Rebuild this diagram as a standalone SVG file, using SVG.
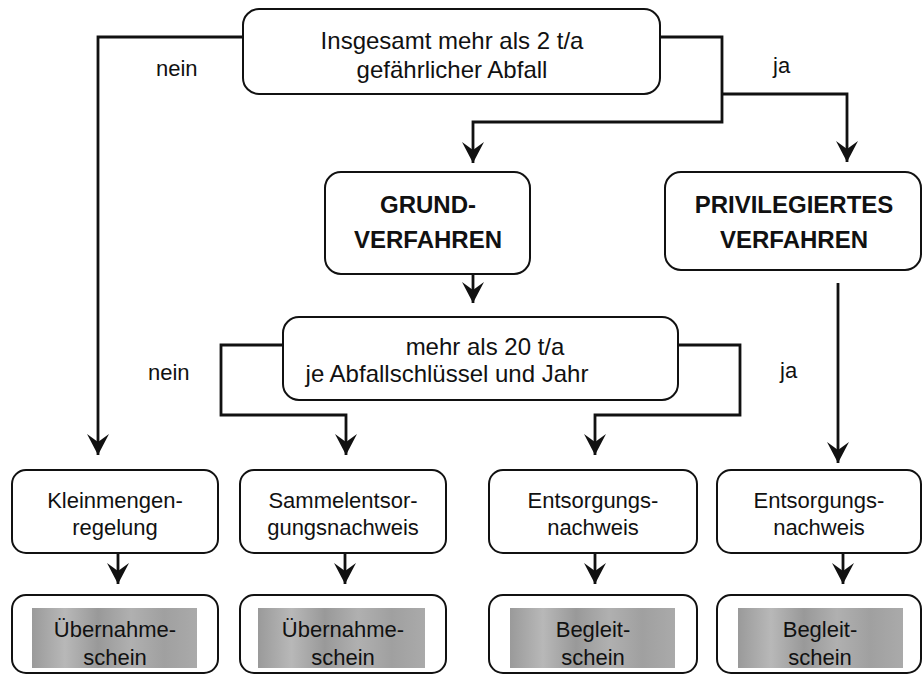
<svg xmlns="http://www.w3.org/2000/svg" width="924" height="677" viewBox="0 0 924 677">
<style>
.box{fill:#fff;stroke:#111;stroke-width:2}
.t{font-family:"Liberation Sans",Arial,sans-serif;font-size:22px;fill:#111;text-anchor:middle}
.tl{font-family:"Liberation Sans",Arial,sans-serif;font-size:24px;fill:#111;text-anchor:middle}
.tb{font-family:"Liberation Sans",Arial,sans-serif;font-size:24px;font-weight:bold;fill:#111;text-anchor:middle}
.lbl{font-family:"Liberation Sans",Arial,sans-serif;font-size:22px;fill:#111}
.c{fill:none;stroke:#111;stroke-width:2.8}
.g{fill:url(#grey)}
</style>
<defs>
<marker id="ah" markerUnits="userSpaceOnUse" markerWidth="24" markerHeight="26" viewBox="-22 -12 24 24" refX="0" refY="0" orient="auto">
<path d="M0,0 L-21,-11 L-13,0 L-21,11 Z" fill="#111"/>
</marker>
<linearGradient id="grey" x1="0" y1="0" x2="1" y2="0">
<stop offset="0" stop-color="#9a9a9a"/>
<stop offset="0.2" stop-color="#b8b8b8"/>
<stop offset="0.4" stop-color="#999"/>
<stop offset="0.6" stop-color="#b0b0b0"/>
<stop offset="0.8" stop-color="#a0a0a0"/>
<stop offset="1" stop-color="#aaa"/>
</linearGradient>
</defs>
<rect width="924" height="677" fill="#fff"/>
<g id="connectors">
<path class="c" d="M243,37 H98 V455" marker-end="url(#ah)"/>
<path class="c" d="M660,37 H722 V122 H473 V163" marker-end="url(#ah)"/>
<path class="c" d="M722,94 H847 V162" marker-end="url(#ah)"/>
<path class="c" d="M473,274 V303" marker-end="url(#ah)"/>
<path class="c" d="M838,283 V463" marker-end="url(#ah)"/>
<path class="c" d="M283,345 H221 V415 H346 V455" marker-end="url(#ah)"/>
<path class="c" d="M678,345 H740 V415 H595 V455" marker-end="url(#ah)"/>
<path class="c" d="M118,553 V584" marker-end="url(#ah)"/>
<path class="c" d="M345,553 V584" marker-end="url(#ah)"/>
<path class="c" d="M595,553 V584" marker-end="url(#ah)"/>
<path class="c" d="M843,553 V584" marker-end="url(#ah)"/>
<text class="lbl" x="156" y="76">nein</text>
<text class="lbl" x="773" y="73">ja</text>
<text class="lbl" x="148" y="380">nein</text>
<text class="lbl" x="780" y="378">ja</text>
</g>
<g id="n-top">
<rect class="box" x="243" y="9" width="417" height="85" rx="16"/>
<text class="tl" x="452" y="49">Insgesamt mehr als 2 t/a</text>
<text class="tl" x="452" y="78">gefährlicher Abfall</text>
</g>
<g id="n-grund">
<rect class="box" x="325" y="172" width="205" height="102" rx="16"/>
<text class="tb" x="428" y="213">GRUND-</text>
<text class="tb" x="428" y="248">VERFAHREN</text>
</g>
<g id="n-priv">
<rect class="box" x="665" y="172" width="256" height="98" rx="16"/>
<text class="tb" x="794" y="213">PRIVILEGIERTES</text>
<text class="tb" x="794" y="248">VERFAHREN</text>
</g>
<g id="n-mehr">
<rect class="box" x="283" y="317" width="395" height="83" rx="16"/>
<text class="tl" x="485" y="355">mehr als 20 t/a</text>
<text class="tl" x="447" y="382">je Abfallschlüssel und Jahr</text>
</g>
<g id="n-klein">
<rect class="box" x="12" y="470" width="206" height="83" rx="14"/>
<text class="t" x="115" y="508">Kleinmengen-</text>
<text class="t" x="115" y="535">regelung</text>
</g>
<g id="n-sammel">
<rect class="box" x="240" y="470" width="206" height="83" rx="14"/>
<text class="t" x="343" y="508">Sammelentsor-</text>
<text class="t" x="343" y="535">gungsnachweis</text>
</g>
<g id="n-ents1">
<rect class="box" x="489" y="470" width="208" height="83" rx="14"/>
<text class="t" x="593" y="508">Entsorgungs-</text>
<text class="t" x="593" y="535">nachweis</text>
</g>
<g id="n-ents2">
<rect class="box" x="717" y="470" width="204" height="83" rx="14"/>
<text class="t" x="819" y="508">Entsorgungs-</text>
<text class="t" x="819" y="535">nachweis</text>
</g>
<g id="n-ueb1">
<rect class="box" x="12" y="595" width="206" height="78" rx="14"/>
<rect class="g" x="32" y="608" width="165" height="60"/>
<text class="t" x="115" y="637">Übernahme-</text>
<text class="t" x="115" y="665">schein</text>
</g>
<g id="n-ueb2">
<rect class="box" x="240" y="595" width="206" height="78" rx="14"/>
<rect class="g" x="258" y="608" width="167" height="60"/>
<text class="t" x="343" y="637">Übernahme-</text>
<text class="t" x="343" y="665">schein</text>
</g>
<g id="n-begl1">
<rect class="box" x="489" y="595" width="208" height="78" rx="14"/>
<rect class="g" x="510" y="608" width="165" height="60"/>
<text class="t" x="593" y="637">Begleit-</text>
<text class="t" x="593" y="665">schein</text>
</g>
<g id="n-begl2">
<rect class="box" x="717" y="595" width="204" height="78" rx="14"/>
<rect class="g" x="738" y="608" width="165" height="60"/>
<text class="t" x="820" y="637">Begleit-</text>
<text class="t" x="820" y="665">schein</text>
</g>
</svg>
